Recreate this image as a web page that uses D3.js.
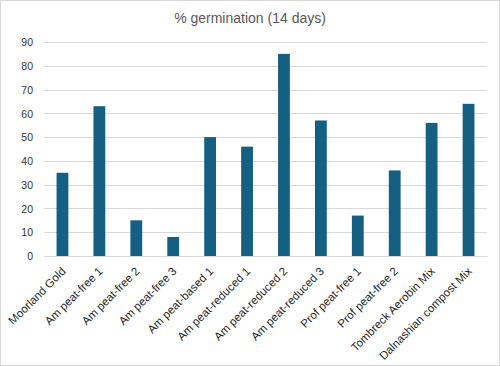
<!DOCTYPE html>
<html><head><meta charset="utf-8">
<script src="https://cdn.jsdelivr.net/npm/d3@7"></script>
<style>body{margin:0;background:#fff}svg{display:block}</style>
</head><body>
<script>
const categories = ["Moorland Gold","Am peat-free 1","Am peat-free 2","Am peat-free 3","Am peat-based 1","Am peat-reduced 1","Am peat-reduced 2","Am peat-reduced 3","Prof peat-free 1","Prof peat-free 2","Tombreck Aerobin Mix","Dalnashian compost Mix"];
const values = [35,63,15,8,50,46,85,57,17,36,56,64];
const yTicks = [0,10,20,30,40,50,60,70,80,90];
const title = "% germination (14 days)";

const W=500,H=366;
const m={l:44,r:13,t:42,b:110};
const svg=d3.select("body").append("svg").attr("width",W).attr("height",H);
svg.append("rect").attr("x",0.5).attr("y",0.5).attr("width",W-1).attr("height",H-1).attr("fill","#fff").attr("stroke","#d9d9d9");
const font="Liberation Sans, Arial, sans-serif";
svg.append("text").attr("x",W/2).attr("y",23).attr("text-anchor","middle").attr("font-family",font).attr("font-size",14).attr("fill","#595959").text(title);

const x=d3.scaleBand().domain(categories).range([m.l,W-m.r]).paddingInner(0.68).paddingOuter(0.34);
const y=d3.scaleLinear().domain([0,90]).range([H-m.b,m.t]);

const g=svg.append("g");
g.selectAll("line.grid").data(yTicks).join("line").attr("class","grid")
 .attr("x1",m.l).attr("x2",W-m.r).attr("y1",d=>Math.round(y(d))+0.5).attr("y2",d=>Math.round(y(d))+0.5)
 .attr("stroke","#d9d9d9").attr("stroke-width",1);

const ya=d3.axisLeft(y).tickValues(yTicks).tickSize(0).tickPadding(0);
const yg=svg.append("g").attr("transform",`translate(${m.l-11},0)`).call(ya);
yg.select(".domain").remove();
yg.selectAll("text").attr("font-family",font).attr("font-size",10.5).attr("fill","#333").attr("dy","0.35em");

g.selectAll("rect.bar").data(values).join("rect").attr("class","bar")
 .attr("x",(d,i)=>x(categories[i])).attr("width",x.bandwidth())
 .attr("y",d=>y(d)).attr("height",d=>y(0)-y(d)).attr("fill","#156082");

const xa=d3.axisBottom(x).tickSize(0).tickPadding(0);
const xg=svg.append("g").attr("transform",`translate(0,${y(0)})`).call(xa);
xg.select(".domain").attr("stroke","#d9d9d9");
xg.selectAll("text").attr("font-family",font).attr("font-size",11.5).attr("fill","#262626")
 .attr("text-anchor","end").attr("dy",null).attr("y",0)
 .attr("transform","translate(4,16) rotate(-45)");
</script>
</body></html>
